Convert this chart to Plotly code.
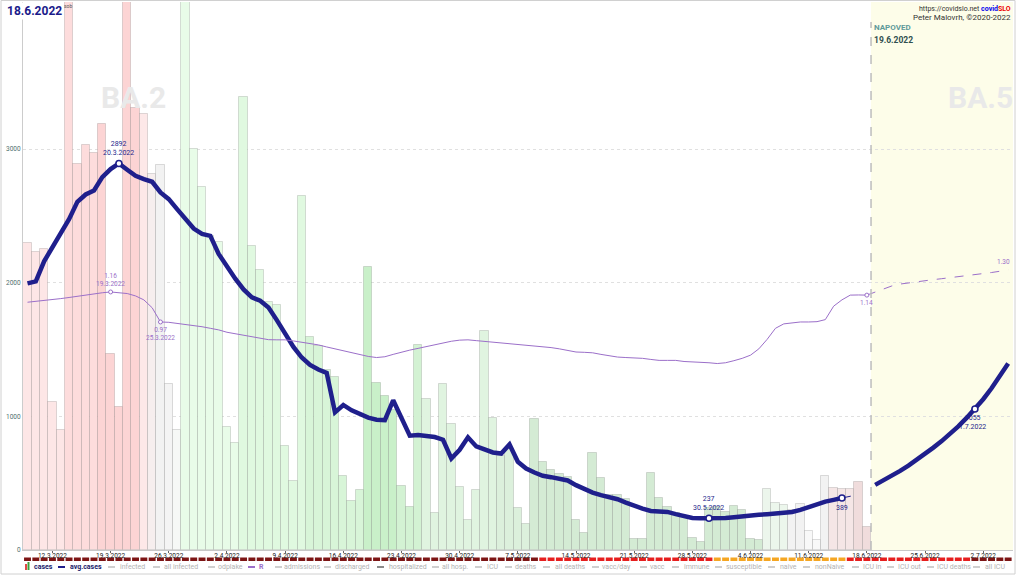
import pandas as pd
import plotly.graph_objects as go

# ---------------- data ----------------
start_date = "2022-03-09"

cases = [2300, 2230, 2250, 1107, 900,
         4180, 2890, 3030, 2970, 3190, 1470, 1070,
         4910, 3310, 3260, 2810, 2880, 1245, 900,
         4320, 3000, 2715, 2350, 2305, 917, 800,
         3390, 2278, 2098, 1852, 1833, 779, 517,
         2646, 1595, 1528, 1350, 1295, 553, 363,
         448, 2119, 1250, 1150, 1050, 482, 323,
         1536, 1131, 278, 1245, 946, 474, 225,
         450, 1640, 991, 700, 756, 318, 191,
         977, 662, 599, 572, 548, 225, 130,
         728, 535, 408, 408, 381, 85, 85,
         575, 389, 323, 278, 257, 90, 58,
         318, 323, 283, 330, 297, 85, 72,
         453, 348, 333, 298, 341, 140, 72,
         556, 465, 456, 456, 512, 175]

avg_cases = [1995, 2010, 2160, 2265, 2365, 2475, 2605, 2660, 2690, 2790,
             2850, 2892, 2845, 2800, 2775, 2755, 2675, 2625, 2550, 2475,
             2405, 2365, 2350, 2215, 2120, 2030, 1950, 1890, 1865, 1815,
             1720, 1620, 1520, 1440, 1385, 1350, 1325, 1030, 1085, 1045,
             1020, 990, 975, 972, 1120, 985, 855, 860, 850, 845,
             825, 685, 750, 843, 775, 748, 730, 722, 790, 660,
             610, 580, 555, 545, 535, 520, 485, 455, 430, 410,
             395, 380, 355, 330, 310, 292, 287, 285, 268, 250,
             240, 238, 237, 238, 240, 245, 253, 258, 263, 268,
             273, 277, 285, 300, 320, 345, 362, 375, 389]
avg_cases_tail = [389, 402, 415]

forecast_start = "2022-06-19"
forecast_avg = [487, 520, 555, 592, 632, 674, 718, 766, 815, 868,
                925, 988, 1055, 1128, 1210, 1300, 1396]

r_values = [1.095, 1.10, 1.105, 1.11, 1.118, 1.125, 1.133, 1.14, 1.15, 1.155,
            1.16, 1.157, 1.15, 1.135, 1.11, 1.06, 0.97, 0.968, 0.962, 0.955,
            0.947, 0.94, 0.93, 0.92, 0.905, 0.895, 0.885, 0.875, 0.865, 0.858,
            0.857, 0.857, 0.85, 0.843, 0.835, 0.825, 0.812, 0.80, 0.785, 0.772,
            0.76, 0.752, 0.745, 0.75, 0.765, 0.78, 0.792, 0.803, 0.815, 0.825,
            0.838, 0.848, 0.855, 0.857, 0.852, 0.847, 0.842, 0.838, 0.834, 0.83,
            0.822, 0.817, 0.812, 0.808, 0.80, 0.79, 0.78, 0.778, 0.775, 0.765,
            0.755, 0.748, 0.745, 0.744, 0.74, 0.733, 0.727, 0.727, 0.727, 0.72,
            0.718, 0.718, 0.712, 0.707, 0.712, 0.725, 0.74, 0.76, 0.80, 0.86,
            0.93, 0.958, 0.965, 0.97, 0.97, 0.972, 0.985, 1.07, 1.11, 1.14,
            1.141, 1.14]
r_forecast = [1.14, 1.158, 1.178, 1.198, 1.21, 1.218, 1.225, 1.232, 1.238,
              1.244, 1.25, 1.256, 1.262, 1.268, 1.275, 1.283, 1.291, 1.30]

tick_labels = ["12.3.2022", "19.3.2022", "26.3.2022", "2.4.2022", "9.4.2022",
               "16.4.2022", "23.4.2022", "30.4.2022", "7.5.2022", "14.5.2022",
               "21.5.2022", "28.5.2022", "4.6.2022", "11.6.2022", "18.6.2022",
               "25.6.2022", "2.7.2022"]
y_ticks = [0, 1000, 2000, 3000]

legend_names = ["cases", "avg.cases", "infected", "all infected", "odplake", "R",
                "admissions", "discharged", "hospitalized", "all hosp.", "ICU",
                "deaths", "all deaths", "vacc/day", "vacc", "immune",
                "susceptible", "naive", "nonNaive", "ICU in", "ICU out",
                "ICU deaths", "all ICU"]

# ---------------- styles ----------------
NAVY = "#1f1f8c"
PURPLE = "#9b6fc9"
bar_color_runs = [(5, "#fde6e6"), (4, "#fddcdc"), (5, "#fcd4d4"), (1, "#fde8e8"),
                  (1, "#f6eeee"), (1, "#f2f2f2"), (1, "#f4f4f4"), (1, "#f6f8f6"),
                  (7, "#e8fce8"), (8, "#e0f9e0"), (7, "#d8f5d8"), (4, "#c9f0c9"),
                  (3, "#d3f2d3"), (9, "#e0f4e0"), (4, "#dcf0dc"), (28, "#d4ebd4"),
                  (3, "#ecf6ec"), (2, "#f2f2f2"), (2, "#f8f8f8"), (1, "#f2f2f2"),
                  (3, "#f5e6e6"), (2, "#f0dcdc")]
bar_colors = [c for n, c in bar_color_runs for _ in range(n)]
phase_runs = [(62, "#7d1515"), (21, "#e61e1e"), (16, "#f5a623"), (15, "#e61e1e"), (5, "#7d1515")]
phase_colors = [c for n, c in phase_runs for _ in range(n)]
legend_line_px = [None, 58, 108, 153, 208, 248, 275, 324, 377, 432, 475, 505, 543,
                  592, 640, 672, 715, 768, 803, 852, 887, 927, 973]
legend_text_px = [32, 68, 118, 162, 216, 257, 282, 333, 387, 440, 485, 513, 553,
                  600, 648, 682, 724, 778, 813, 861, 896, 935, 983]

# ---------------- geometry ----------------
W, H = 1024, 576
ML, MR, MT, MB = 23, 11, 2, 26
PW, PH = W - ML - MR, H - MT - MB


def px_x(px):
    return (px - ML) / PW


def px_y(py):
    return (H - MB - py) / PH


days = pd.date_range(start_date, periods=len(cases), freq="D")
avg_days = days[:len(avg_cases)]
tail_days = pd.date_range(avg_days[-1], periods=len(avg_cases_tail), freq="D")
fc_days = pd.date_range(forecast_start, periods=len(forecast_avg), freq="D")
r_days = days[:len(r_values)]
rf_days = pd.date_range(r_days[-1], periods=len(r_forecast), freq="D")
tick_dates = pd.date_range("2022-03-12", periods=len(tick_labels), freq="7D")
all_days = pd.date_range(start_date, fc_days[-1], freq="D")
split = days[-1] + pd.Timedelta(hours=12)
x_range = [pd.Timestamp(start_date) - pd.Timedelta(hours=13),
           fc_days[-1] + pd.Timedelta(hours=14)]

fig = go.Figure()

fig.add_trace(go.Bar(x=days, y=cases, marker=dict(color=bar_colors,
                     line=dict(color="rgba(0,0,0,0.13)", width=1)),
                     name="cases", showlegend=False))

fig.add_trace(go.Scatter(x=r_days, y=r_values, yaxis="y2", mode="lines",
                         line=dict(color=PURPLE, width=1), showlegend=False))
fig.add_trace(go.Scatter(x=rf_days, y=r_forecast, yaxis="y2", mode="lines",
                         line=dict(color=PURPLE, width=1, dash="dash"), showlegend=False))

fig.add_trace(go.Scatter(x=tail_days, y=avg_cases_tail, mode="lines",
                         line=dict(color=NAVY, width=1, dash="dash"), showlegend=False))
fig.add_trace(go.Scatter(x=avg_days, y=avg_cases, mode="lines",
                         line=dict(color=NAVY, width=4.5), showlegend=False))
fig.add_trace(go.Scatter(x=fc_days, y=forecast_avg, mode="lines",
                         line=dict(color=NAVY, width=4.5), showlegend=False))

# highlighted points
avg_marks = [(avg_days[11], avg_cases[11]), (avg_days[82], avg_cases[82]),
             (avg_days[98], avg_cases[98]), (fc_days[12], forecast_avg[12])]
fig.add_trace(go.Scatter(x=[p[0] for p in avg_marks], y=[p[1] for p in avg_marks],
                         mode="markers", marker=dict(size=6, color="white",
                         line=dict(color=NAVY, width=1.6)), showlegend=False))
r_marks = [(r_days[10], r_values[10]), (r_days[16], r_values[16]), (r_days[101], r_values[101])]
fig.add_trace(go.Scatter(x=[p[0] for p in r_marks], y=[p[1] for p in r_marks], yaxis="y2",
                         mode="markers", marker=dict(size=4, color="white",
                         line=dict(color=PURPLE, width=1)), showlegend=False))

FONT = "Roboto"
ann = []


def fmt(d):
    return f"{d.day}.{d.month}.{d.year}"


def A(x, y, text, size=7, color=NAVY, xref="x", yref="y", xanchor="center",
      yanchor="middle", **kw):
    ann.append(dict(x=x, y=y, text=text, xref=xref, yref=yref, showarrow=False,
                    xanchor=xanchor, yanchor=yanchor,
                    font=dict(family=FONT, size=size, color=color), **kw))


# value labels
A(avg_marks[0][0], avg_marks[0][1], f"{avg_marks[0][1]}<br>{fmt(avg_marks[0][0])}",
  yanchor="bottom", yshift=4)
A(avg_marks[1][0], avg_marks[1][1], f"{avg_marks[1][1]}<br>{fmt(avg_marks[1][0])}",
  yanchor="bottom", yshift=4)
A(avg_marks[2][0], avg_marks[2][1], f"{avg_marks[2][1]}", yanchor="top", yshift=-4)
A(avg_marks[3][0], avg_marks[3][1], f"{avg_marks[3][1]}<br>{fmt(avg_marks[3][0])}",
  yanchor="top", yshift=-3, xshift=-2)
A(r_marks[0][0], r_marks[0][1], f"{r_marks[0][1]:.2f}<br>{fmt(r_marks[0][0])}",
  size=6.5, color=PURPLE, yref="y2", yanchor="bottom", yshift=2)
A(r_marks[1][0], r_marks[1][1], f"{r_marks[1][1]:.2f}<br>{fmt(r_marks[1][0])}",
  size=6.5, color=PURPLE, yref="y2", yanchor="top", yshift=-2)
A(r_marks[2][0], r_marks[2][1], f"{r_marks[2][1]:.2f}", size=6.5, color=PURPLE,
  yref="y2", yanchor="top", yshift=-2)
A(rf_days[-1], r_forecast[-1], f"{r_forecast[-1]:.2f}", size=6.5, color=PURPLE,
  yref="y2", yanchor="bottom", yshift=2, xshift=-5)

# watermarks
A(px_x(133), px_y(97), "<b>BA.2</b>", size=30, color="#e9e9e9", xref="paper", yref="paper")
A(px_x(980), px_y(97), "<b>BA.5</b>", size=30, color="#e9e9e9", xref="paper", yref="paper")

# title & credits
A(px_x(5), px_y(11), "<b>18.6.2022</b>", size=12, color="#1a1a8a", xref="paper",
  yref="paper", xanchor="left", bgcolor="white")
A(px_x(62), px_y(6), "sob", size=5, color="#555", xref="paper", yref="paper", xanchor="left")
A(px_x(1013), px_y(9), "https://covidslo.net <b><span style='color:#0000ee'>covid</span>"
  "<span style='color:#ee0000'>SLO</span></b>", size=7, color="#333",
  xref="paper", yref="paper", xanchor="right")
A(px_x(1013), px_y(18), "Peter Malovrh, ©2020-2022", size=8, color="#333",
  xref="paper", yref="paper", xanchor="right")
A(px_x(872), px_y(27), "<b>NAPOVED</b>", size=8, color="#5f9a9a", xref="paper",
  yref="paper", xanchor="left")
A(px_x(872), px_y(40), f"<b>{fmt(fc_days[0])}</b>", size=8.5, color="#2f4f4f",
  xref="paper", yref="paper", xanchor="left")

shapes = []
# forecast background
shapes.append(dict(type="rect", xref="x", yref="paper", x0=split, x1=x_range[1],
                   y0=0, y1=1, fillcolor="#fdfde9", line=dict(width=0), layer="below"))
shapes.append(dict(type="line", xref="x", yref="paper", x0=split, x1=split,
                   y0=0, y1=px_y(22), line=dict(color="#bdbdbd", width=1.5, dash="dash")))

# phase strip
for d, c in zip(all_days, phase_colors):
    shapes.append(dict(type="rect", xref="x", yref="paper", layer="below",
                       x0=d - pd.Timedelta(hours=10), x1=d + pd.Timedelta(hours=10),
                       y0=px_y(561), y1=px_y(557.5), fillcolor=c, line=dict(width=0)))

# legend
LY = px_y(567)
shapes.append(dict(type="rect", xref="paper", yref="paper", x0=px_x(25), x1=px_x(27),
                   y0=px_y(570), y1=px_y(564), fillcolor="#e04848", line=dict(width=0)))
shapes.append(dict(type="rect", xref="paper", yref="paper", x0=px_x(27.5), x1=px_x(29.5),
                   y0=px_y(570), y1=px_y(562), fillcolor="#3aa03a", line=dict(width=0)))
for i, name in enumerate(legend_names):
    if name == "cases" or name == "avg.cases":
        tcol, lcol = "#1a1a6a", NAVY
    elif name == "R":
        tcol, lcol = PURPLE, PURPLE
    elif name == "hospitalized":
        tcol, lcol = "#b0b0b0", "#8a8a8a"
    else:
        tcol, lcol = "#b3b3b3", "#cfcfcf"
    if legend_line_px[i] is not None:
        shapes.append(dict(type="line", xref="paper", yref="paper",
                           x0=px_x(legend_line_px[i]), x1=px_x(legend_line_px[i] + 7),
                           y0=LY, y1=LY, line=dict(color=lcol, width=2)))
    txt = f"<b>{name}</b>" if name in ("cases", "avg.cases", "R") else name
    A(px_x(legend_text_px[i]), LY, txt, size=7, color=tcol, xref="paper", yref="paper",
      xanchor="left")

# outer frame
shapes.append(dict(type="rect", xref="paper", yref="paper", x0=px_x(1), x1=px_x(1015),
                   y0=px_y(574), y1=px_y(0.5), line=dict(color="#d0d0d0", width=1)))

fig.update_layout(
    width=W, height=H, margin=dict(l=ML, r=MR, t=MT, b=MB),
    paper_bgcolor="white", plot_bgcolor="white", bargap=0, showlegend=False,
    font=dict(family=FONT),
    xaxis=dict(type="date", range=x_range, tickvals=tick_dates, ticktext=tick_labels,
               ticks="outside", ticklen=2, tickcolor="#666", showgrid=False,
               ticklabelstandoff=-3,
               tickfont=dict(size=6.5, color="#1a1a1a"), showline=True,
               linecolor="#c8c8c8", zeroline=False),
    yaxis=dict(range=[0, 4100], tickvals=y_ticks, showgrid=True, gridcolor="#e0e0e0",
               griddash="dot", tickfont=dict(size=6.5, color="#4f7070"),
               showline=True, linecolor="#cccccc", zeroline=False, ticks=""),
    yaxis2=dict(range=[-0.473, 2.995], overlaying="y", visible=False),
    shapes=shapes, annotations=ann,
)

fig.write_html("out.html", config={"displayModeBar": False},
               post_script="document.body.style.margin='0';document.body.style.overflow='hidden';")
